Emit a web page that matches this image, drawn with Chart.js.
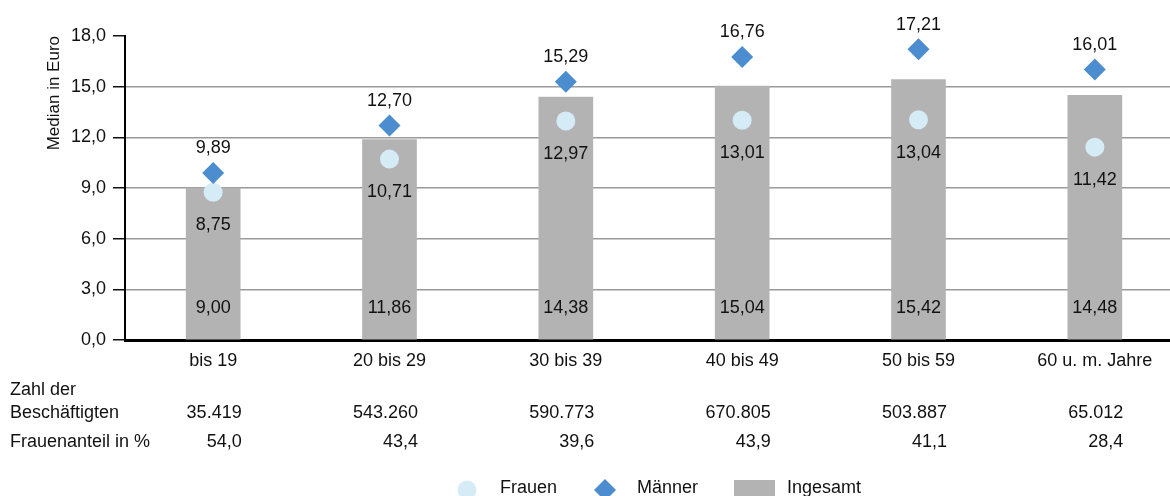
<!DOCTYPE html>
<html lang="de">
<head>
<meta charset="utf-8">
<title>Median Stundenlohn nach Alter</title>
<script src="https://cdn.jsdelivr.net/npm/chart.js@4.4.1/dist/chart.umd.min.js"></script>
<style>
  html, body { margin: 0; padding: 0; background: #fff; overflow: hidden; }
  #wrap { width: 1194px; height: 496px; }
</style>
</head>
<body>
<div id="wrap"><canvas id="lohnChart" width="1194" height="496"></canvas></div>
<script>
const altersgruppen = ['bis 19', '20 bis 29', '30 bis 39', '40 bis 49', '50 bis 59', '60 u. m. Jahre'];
const frauen = [8.75, 10.71, 12.97, 13.01, 13.04, 11.42];
const maenner = [9.89, 12.70, 15.29, 16.76, 17.21, 16.01];
const insgesamt = [9.00, 11.86, 14.38, 15.04, 15.42, 14.48];
const beschaeftigte = ['35.419', '543.260', '590.773', '670.805', '503.887', '65.012'];
const frauenanteil = ['54,0', '43,4', '39,6', '43,9', '41,1', '28,4'];
const yTicks = [0, 3, 6, 9, 12, 15, 18];

const FONT = '"Liberation Sans", Arial, sans-serif';
const colFrauen = '#d5ebf6';
const colMaenner = '#4b8dcf';
const colGesamt = '#b3b3b3';

function komma(v, d) {
    return v.toFixed(d).replace('.', ',');
}

// value labels on bars and markers
const valueLabels = {
    id: 'valueLabels',
    afterDatasetsDraw(chart) {
        const ctx = chart.ctx;
        const base = chart.scales.y.getPixelForValue(0);
        ctx.save();
        ctx.font = '18px ' + FONT;
        ctx.fillStyle = '#111';
        ctx.textAlign = 'center';
        ctx.textBaseline = 'alphabetic';
        chart.getDatasetMeta(0).data.forEach((bar, i) => {
            ctx.fillText(komma(insgesamt[i], 2), bar.x, base - 27);
        });
        chart.getDatasetMeta(1).data.forEach((pt, i) => {
            ctx.fillText(komma(frauen[i], 2), pt.x, pt.y + 38);
        });
        chart.getDatasetMeta(2).data.forEach((pt, i) => {
            ctx.fillText(komma(maenner[i], 2), pt.x, pt.y - 19.5);
        });
        ctx.restore();
    }
};

// table below the axis plus legend
const tableAndLegend = {
    id: 'tableAndLegend',
    afterDraw(chart) {
        const ctx = chart.ctx;
        const x = chart.scales.x;
        ctx.save();
        ctx.font = '18px ' + FONT;
        ctx.fillStyle = '#111';
        ctx.textBaseline = 'alphabetic';
        ctx.textAlign = 'left';
        ctx.fillText('Zahl der', 10, 395);
        ctx.fillText('Beschäftigten', 10, 418);
        ctx.fillText('Frauenanteil in %', 10, 447);
        ctx.textAlign = 'right';
        altersgruppen.forEach((g, i) => {
            const px = x.getPixelForValue(i) + 28.5;
            ctx.fillText(beschaeftigte[i], px, 418);
            ctx.fillText(frauenanteil[i], px, 447);
        });

        // legend
        const ly = 490;
        ctx.fillStyle = colFrauen;
        ctx.beginPath();
        ctx.arc(467, ly, 9.5, 0, Math.PI * 2);
        ctx.fill();
        ctx.fillStyle = colMaenner;
        ctx.beginPath();
        ctx.moveTo(605, ly - 11);
        ctx.lineTo(616, ly);
        ctx.lineTo(605, ly + 11);
        ctx.lineTo(594, ly);
        ctx.closePath();
        ctx.fill();
        ctx.fillStyle = colGesamt;
        ctx.fillRect(734, 480, 41, 16);
        ctx.fillStyle = '#111';
        ctx.textAlign = 'left';
        ctx.fillText('Frauen', 500, 493);
        ctx.fillText('Männer', 637, 493);
        ctx.fillText('Ingesamt', 787, 493);
        ctx.restore();
    }
};

const ctx = document.getElementById('lohnChart').getContext('2d');
new Chart(ctx, {
    type: 'bar',
    data: {
        labels: altersgruppen,
        datasets: [
            {
                label: 'Ingesamt',
                data: insgesamt,
                backgroundColor: colGesamt,
                barThickness: 54,
                order: 3
            },
            {
                type: 'line',
                label: 'Frauen',
                data: frauen,
                showLine: false,
                pointStyle: 'circle',
                pointRadius: 9.5,
                pointBorderWidth: 0,
                pointBackgroundColor: colFrauen,
                pointBorderColor: colFrauen,
                order: 2
            },
            {
                type: 'line',
                label: 'Männer',
                data: maenner,
                showLine: false,
                pointStyle: 'rectRot',
                pointRadius: 11,
                pointBorderWidth: 0,
                pointBackgroundColor: colMaenner,
                pointBorderColor: colMaenner,
                order: 1
            }
        ]
    },
    options: {
        responsive: false,
        animation: false,
        devicePixelRatio: 1,
        layout: { padding: { top: 36, right: 0, bottom: 126, left: 0 } },
        plugins: {
            legend: { display: false },
            tooltip: { enabled: false }
        },
        scales: {
            x: {
                grid: { display: false, drawTicks: false },
                border: { display: true, color: '#000', width: 3 },
                ticks: {
                    color: '#111',
                    padding: 10,
                    font: { family: FONT, size: 18 }
                },
                afterFit(scale) { scale.height = 30; }
            },
            y: {
                min: 0,
                max: 18,
                afterBuildTicks(scale) {
                    scale.ticks = yTicks.map(v => ({ value: v }));
                },
                grid: {
                    color: c => (c.tick && c.tick.value === 18) ? 'rgba(0,0,0,0)' : '#9a9a9a',
                    lineWidth: 1.5,
                    drawTicks: true,
                    tickLength: 12,
                    tickColor: '#111',
                    tickWidth: 1.5
                },
                border: { display: true, color: '#000', width: 2 },
                ticks: {
                    color: '#111',
                    padding: 7,
                    font: { family: FONT, size: 18 },
                    callback: v => komma(v, 1)
                },
                title: {
                    display: true,
                    text: 'Median in Euro',
                    align: 'end',
                    color: '#111',
                    font: { family: FONT, size: 17 },
                    padding: { top: 44, bottom: 0 }
                },
                afterFit(scale) { scale.width = 125; }
            }
        }
    },
    plugins: [valueLabels, tableAndLegend]
});
</script>
</body>
</html>
